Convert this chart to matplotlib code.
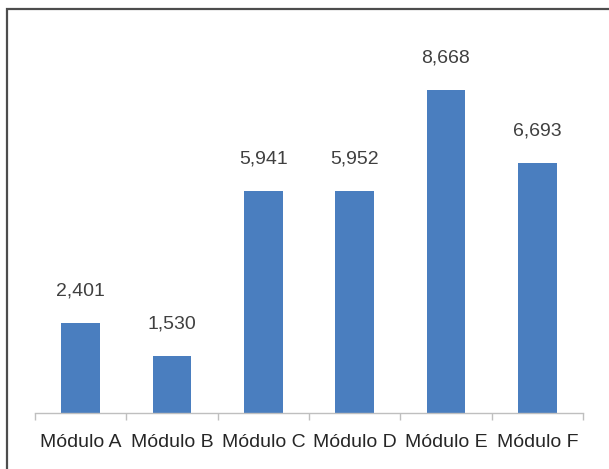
import matplotlib
matplotlib.use('Agg')
import matplotlib.pyplot as plt
from matplotlib.patches import Rectangle
import numpy as np

plt.rcParams['font.family'] = ['Liberation Sans', 'DejaVu Sans']

# dados
modulos = ['Módulo A', 'Módulo B', 'Módulo C', 'Módulo D', 'Módulo E', 'Módulo F']
valores = [2401, 1530, 5941, 5952, 8668, 6693]
rotulos = ['2,401', '1,530', '5,941', '5,952', '8,668', '6,693']

W, H = 609, 469
fig = plt.figure(figsize=(W / 100, H / 100), dpi=100)
ax = fig.add_axes([35 / W, 1 - 413 / H, 548 / W, 373 / H])

x = np.arange(len(modulos))
ax.bar(x, valores, width=0.42, color='#4a7ebf')
for xi, v, r in zip(x, valores, rotulos):
    ax.annotate(r, (xi, v), xytext=(0, 17), textcoords='offset points',
                ha='center', va='bottom', fontsize=14, color='#404040')

ax.set_xlim(-0.5, len(modulos) - 0.5)
ax.set_ylim(0, 10000)
ax.set_yticks([])
for s in ['top', 'right', 'left']:
    ax.spines[s].set_visible(False)
ax.spines['bottom'].set_color('#bfbfbf')
ax.spines['bottom'].set_linewidth(1)
ax.set_xticks(x)
ax.set_xticklabels(modulos, fontsize=14, color='#262626')
ax.tick_params(axis='x', length=0, pad=15)
ax.set_xticks(np.arange(-0.5, len(modulos)), minor=True)
ax.tick_params(axis='x', which='minor', length=5, color='#bfbfbf', width=1)

# moldura
fig.patches.append(Rectangle((6.5 / W, -0.1), 1.2, 1 - 9.5 / H + 0.1,
                             transform=fig.transFigure, fill=False,
                             edgecolor='#4d4d4d', linewidth=1.6))

plt.savefig('out.png', dpi=100)
plt.close()
